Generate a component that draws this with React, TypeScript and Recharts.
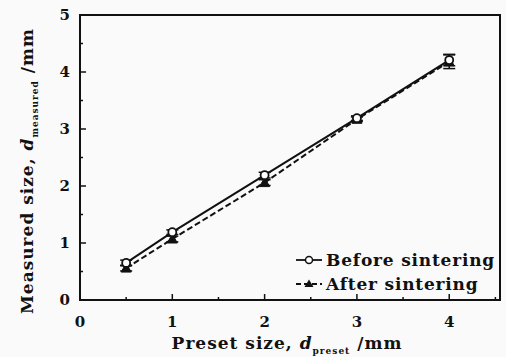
import React from 'react';
import { ComposedChart, Line, XAxis, YAxis, ErrorBar, Customized, ReferenceLine } from 'recharts';

const presetSizes = [0.5, 1, 2, 3, 4];
const beforeSintering = [0.65, 1.19, 2.19, 3.19, 4.21];
const afterSintering = [0.56, 1.07, 2.06, 3.17, 4.18];
const beforeErr = [0.05, 0.04, 0.05, 0.04, 0.1];
const afterErr = [0.05, 0.05, 0.05, 0.04, 0.12];
const xTicks = [0, 0.5, 1, 1.5, 2, 2.5, 3, 3.5, 4, 4.5];
const yTicks = [0, 0.5, 1, 1.5, 2, 2.5, 3, 3.5, 4, 4.5, 5];
const xMax = 4.55;
const yMax = 5;
const seriesNames = ['Before sintering', 'After sintering'];

const data = presetSizes.map((x, i) => ({
  x,
  before: beforeSintering[i],
  after: afterSintering[i],
  errB: beforeErr[i],
  errA: afterErr[i],
}));

const FONT = '"DejaVu Serif", "Liberation Serif", serif';

const YTick = (props: any) => {
  const { x, y, payload } = props;
  const v = payload.value;
  const major = Number.isInteger(v);
  const ax = x + 8;
  return (
    <g>
      <line x1={ax} x2={ax + (major ? 6 : 3)} y1={y} y2={y} stroke="#111" strokeWidth={1.5} />
      {major && (
        <text x={x - 2} y={y + 5} textAnchor="end" fontFamily={FONT} fontWeight="bold" fontSize={15} fill="#111">
          {v}
        </text>
      )}
    </g>
  );
};

const XTick = (props: any) => {
  const { x, y, payload } = props;
  const v = payload.value;
  const major = Number.isInteger(v);
  const ay = y - 8;
  return (
    <g>
      <line x1={x} x2={x} y1={ay} y2={ay - (major ? 6 : 3)} stroke="#111" strokeWidth={1.5} />
      {major && (
        <text x={x} y={y + 19} textAnchor="middle" fontFamily={FONT} fontWeight="bold" fontSize={15} fill="#111">
          {v}
        </text>
      )}
    </g>
  );
};

const Circle = (props: any) => {
  const { cx, cy } = props;
  if (cx == null || cy == null) return null;
  return <circle cx={cx} cy={cy} r={4} fill="#fff" stroke="#111" strokeWidth={1.8} />;
};

const Tri = (props: any) => {
  const { cx, cy } = props;
  if (cx == null || cy == null) return null;
  const s = 5;
  return <polygon points={`${cx},${cy - s} ${cx - s},${cy + s * 0.8} ${cx + s},${cy + s * 0.8}`} fill="#111" stroke="#111" />;
};

const Titles = () => (
  <g fontFamily={FONT} fontWeight="bold" fill="#111">
    <rect x={80} y={15} width={420} height={285} fill="none" stroke="#111" strokeWidth={2} />
    <text x={287} y={349} textAnchor="middle" fontSize={17} letterSpacing={1}>
      Preset size,{' '}
      <tspan fontStyle="italic">d</tspan>
      <tspan fontSize={9} dy={5}>preset</tspan>
      <tspan dy={-5}> /mm</tspan>
    </text>
    <text transform="translate(33,171) rotate(-90)" textAnchor="middle" fontSize={17} letterSpacing={1}>
      Measured size,{' '}
      <tspan fontStyle="italic">d</tspan>
      <tspan fontSize={9} dy={5}>measured</tspan>
      <tspan dy={-5}> /mm</tspan>
    </text>
    <g>
      <line x1={296} x2={322} y1={260} y2={260} stroke="#111" strokeWidth={1.8} />
      <circle cx={309} cy={260} r={3.5} fill="#fff" stroke="#111" strokeWidth={1.5} />
      <text x={326} y={266} fontSize={17} letterSpacing={0.8}>{seriesNames[0]}</text>
      <line x1={296} x2={322} y1={284} y2={284} stroke="#111" strokeWidth={1.8} strokeDasharray="5 3" />
      <polygon points="309,279.5 304.5,287 313.5,287" fill="#111" />
      <text x={326} y={290} fontSize={17} letterSpacing={0.8}>{seriesNames[1]}</text>
    </g>
  </g>
);

export default function App() {
  return (
    <div style={{ position: 'absolute', left: 0, top: 0, width: 506, height: 357, background: '#fafafa' }}>
      <ComposedChart width={506} height={357} data={data} margin={{ top: 15, right: 6, bottom: 0, left: 0 }}>
        <XAxis
          dataKey="x"
          type="number"
          domain={[0, xMax]}
          ticks={xTicks}
          interval={0}
          height={57}
          tickLine={false}
          axisLine={{ stroke: '#111', strokeWidth: 2 }}
          tick={<XTick />}
        />
        <YAxis
          type="number"
          domain={[0, yMax]}
          ticks={yTicks}
          interval={0}
          width={80}
          tickLine={false}
          axisLine={{ stroke: '#111', strokeWidth: 2 }}
          tick={<YTick />}
        />
        <ReferenceLine y={yMax} ifOverflow="visible" stroke="#111" strokeWidth={2} />
        <ReferenceLine x={xMax} ifOverflow="visible" stroke="#111" strokeWidth={2} />
        <Line
          dataKey="after"
          stroke="#111"
          strokeWidth={2}
          strokeDasharray="6 3"
          dot={<Tri />}
          isAnimationActive={false}
        >
          <ErrorBar dataKey="errA" width={6} stroke="#111" strokeWidth={1.5} direction="y" />
        </Line>
        <Line
          dataKey="before"
          stroke="#111"
          strokeWidth={2}
          dot={<Circle />}
          isAnimationActive={false}
        >
          <ErrorBar dataKey="errB" width={6} stroke="#111" strokeWidth={1.5} direction="y" />
        </Line>
        <Customized component={Titles} />
      </ComposedChart>
      <div
        style={{
          position: 'absolute',
          left: 79,
          top: 14,
          width: 420,
          height: 285,
          borderTop: '2px solid #111',
          borderRight: '2px solid #111',
          pointerEvents: 'none',
        }}
      />
    </div>
  );
}
